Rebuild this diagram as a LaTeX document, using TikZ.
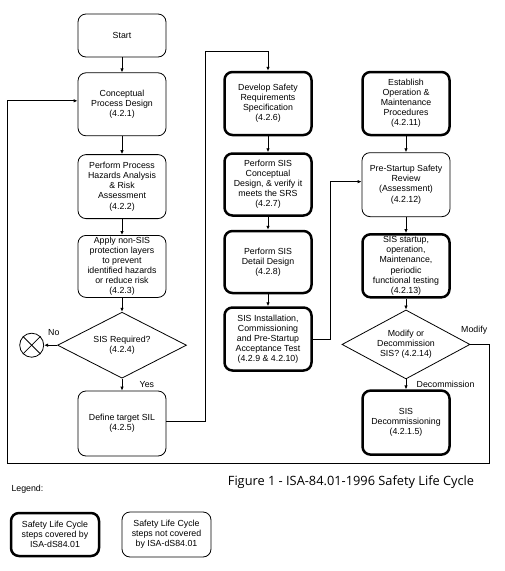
\documentclass[tikz,border=0pt]{standalone}
\usepackage{fontspec}
\setmainfont{Liberation Sans}
\newfontfamily\captionfont{Open Sans}
\usepackage{tikz}
\usetikzlibrary{arrows.meta, positioning, shapes.geometric, calc}
\tikzstyle{process} = [rectangle, rounded corners=8pt, minimum width=88pt, inner sep=1pt, text centered, align=center, draw=black, line width=0.8pt, font=\fontsize{8.8}{10.1}\selectfont]
\tikzstyle{covered} = [rectangle, rounded corners=8pt, minimum width=87pt, inner sep=1pt, text centered, align=center, draw=black, line width=2.5pt, font=\fontsize{8.8}{10.1}\selectfont]
\tikzstyle{decision} = [diamond, aspect=2, inner sep=0pt, text centered, align=center, draw=black, line width=0.8pt, font=\fontsize{8.8}{10.1}\selectfont]
\tikzstyle{flow} = [->, line width=0.8pt]
\tikzstyle{tag} = [font=\fontsize{8.8}{10.1}\selectfont]

\begin{document}
\begin{tikzpicture}[x=1pt, y=-1pt, node distance=15pt, >={Latex[length=4pt,width=3.5pt]}]
			\useasboundingbox (0,0) rectangle (504,571);
			
			% first column
			\node[process, minimum height=43pt] (start) at (122,35.5) {Start};
			\node[process, minimum height=63pt, below=15pt of start] (concept) {Conceptual\\Process Design\\(4.2.1)};
			\node[process, minimum height=64pt, below=18pt of concept] (hazard) {Perform Process\\Hazards Analysis\\\& Risk\\Assessment\\(4.2.2)};
			\node[process, minimum height=62pt, below=16pt of hazard] (layers) {Apply non-SIS\\protection layers\\to prevent\\identified hazards\\or reduce risk\\(4.2.3)};
			\node[decision, minimum width=129pt, minimum height=66pt, below=14pt of layers] (sisreq) {SIS Required?\\(4.2.4)};
			\node[circle, draw, line width=0.8pt, minimum size=24pt, left=13pt of sisreq] (stop) {};
			\node[process, minimum height=65pt, below=12pt of sisreq] (sil) {Define target SIL\\(4.2.5)};
			
			% second column
			\node[covered, minimum height=63pt] (srs) at (268,103.5) {Develop Safety\\Requirements\\Specification\\(4.2.6)};
			\node[covered, minimum height=62pt, below=16pt of srs] (sisdesign) {Perform SIS\\Conceptual\\Design, \& verify it\\meets the SRS\\(4.2.7)};
			\node[covered, minimum height=62pt, below=13pt of sisdesign] (detail) {Perform SIS\\Detail Design\\(4.2.8)};
			\node[covered, minimum height=63pt, below=12pt of detail] (install) {SIS Installation,\\Commissioning\\and Pre-Startup\\Acceptance Test\\(4.2.9 \& 4.2.10)};
			
			% third column
			\node[covered, minimum height=63pt] (procedures) at (406,103.5) {Establish\\Operation \&\\Maintenance\\Procedures\\(4.2.11)};
			\node[process, minimum height=64pt, below=16pt of procedures] (psr) {Pre-Startup Safety\\Review\\(Assessment)\\(4.2.12)};
			\node[covered, minimum height=63pt, below=16pt of psr] (operate) {SIS startup,\\operation,\\Maintenance,\\periodic\\functional testing\\(4.2.13)};
			\node[decision, minimum width=128pt, minimum height=69pt, below=11pt of operate] (modify) {Modify or\\Decommission\\SIS? (4.2.14)};
			\node[covered, minimum height=64pt, below=10pt of modify] (decom) {SIS\\Decommissioning\\(4.2.1.5)};
			
			% caption and legend
			\node[font=\captionfont\fontsize{12.8}{14}\selectfont] (caption) at (351,482) {Figure 1 - ISA-84.01-1996 Safety Life Cycle};
			\node[tag, anchor=west] (legend) at (8,489) {Legend:};
			\node[covered, minimum width=88pt, minimum height=43pt] (keycovered) at (55,534.5) {Safety Life Cycle\\steps covered by\\ISA-dS84.01};
			\node[process, minimum width=89pt, minimum height=45pt] (keyother) at (166.5,534.5) {Safety Life Cycle\\steps not covered\\by ISA-dS84.01};
			
			\coordinate (loopcorner) at (7,463);
			
			%arrow
			\draw [line width=0.8pt] (stop.north west) -- (stop.south east);
			\draw [line width=0.8pt] (stop.north east) -- (stop.south west);
			\draw [flow] (start) -- (concept);
			\draw [flow] (concept) -- (hazard);
			\draw [flow] (hazard) -- (layers);
			\draw [flow] (layers) -- (sisreq);
			\draw [flow] (sisreq) -- node[tag, right=14pt] {Yes} (sil);
			\draw [flow] (sisreq.west) -- node[tag, above=6pt, pos=0.25] {No} (stop);
			\draw [flow] ([yshift=2.5pt]sil.east) -- ++(39,0) |- ([yshift=19pt]srs.north) -- (srs.north);
			\draw [flow] (srs) -- (sisdesign);
			\draw [flow] (sisdesign) -- (detail);
			\draw [flow] (detail) -- (install);
			\draw [flow] (install.east) -- ++(18,0) |- ([yshift=3pt]psr.west);
			\draw [flow] (procedures) -- (psr);
			\draw [flow] (psr) -- (operate);
			\draw [flow] (operate) -- (modify);
			\draw [flow] (modify) -- node[tag, right=7pt] {Decommission} (decom);
			\draw [flow] (modify.east) -- node[tag, above=6pt, pos=0.2] {Modify} ++(19,0) |- (loopcorner) |- ([yshift=3.5pt]concept.west);
			
			%	
\end{tikzpicture}
\end{document}
